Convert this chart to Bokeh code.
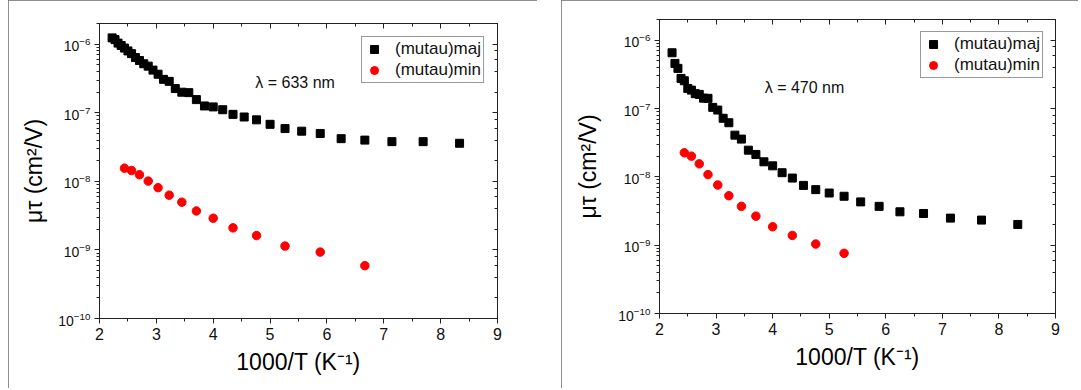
from bokeh.plotting import figure
from bokeh.models import Label, LinearAxis, LogAxis, SingleIntervalTicker, Spacer, CustomJSTickFormatter
from bokeh.layouts import row
from bokeh.embed import file_html
from bokeh.resources import INLINE

# ---------------- data ----------------
# 1000/T for majority carrier points (K^-1)
x_maj = [2.222, 2.273, 2.326, 2.381, 2.439, 2.500, 2.564, 2.632, 2.703, 2.778,
         2.857, 2.941, 3.030, 3.125, 3.226, 3.333, 3.448, 3.571, 3.704, 3.846,
         4.000, 4.167, 4.348, 4.545, 4.762, 5.000, 5.263, 5.556, 5.882, 6.250,
         6.667, 7.143, 7.692, 8.333]
# 633 nm, (mutau)maj  [cm^2/V]
maj_633 = [1.24e-6, 1.17e-6, 1.04e-6, 9.6e-7, 8.8e-7, 8.0e-7, 7.3e-7, 6.4e-7, 5.8e-7, 5.2e-7,
           4.8e-7, 4.2e-7, 3.66e-7, 3.08e-7, 2.88e-7, 2.26e-7, 2.0e-7, 1.97e-7, 1.56e-7, 1.26e-7,
           1.22e-7, 1.11e-7, 9.5e-8, 8.7e-8, 7.9e-8, 6.8e-8, 5.9e-8, 5.4e-8, 5.0e-8, 4.2e-8,
           4.0e-8, 3.8e-8, 3.8e-8, 3.6e-8]
# 470 nm, (mutau)maj
maj_470 = [6.55e-7, 4.57e-7, 3.87e-7, 2.76e-7, 2.55e-7, 1.97e-7, 1.86e-7, 1.65e-7, 1.61e-7, 1.42e-7,
           1.41e-7, 1.04e-7, 9.5e-8, 7.2e-8, 6.2e-8, 4.08e-8, 3.57e-8, 2.46e-8, 2.13e-8, 1.66e-8,
           1.45e-8, 1.15e-8, 9.6e-9, 7.5e-9, 6.5e-9, 5.8e-9, 5.2e-9, 4.3e-9, 3.7e-9, 3.08e-9,
           2.91e-9, 2.49e-9, 2.33e-9, 2.01e-9]

# 1000/T for minority carrier points
x_min_633 = [2.439, 2.564, 2.703, 2.857, 3.030, 3.226, 3.448, 3.704, 4.000, 4.348,
             4.762, 5.263, 5.882, 6.667]
min_633 = [1.56e-8, 1.44e-8, 1.25e-8, 1.01e-8, 8.1e-9, 6.3e-9, 4.97e-9, 3.7e-9, 2.9e-9, 2.1e-9,
           1.62e-9, 1.14e-9, 9.3e-10, 5.9e-10]
x_min_470 = [2.439, 2.564, 2.703, 2.857, 3.030, 3.226, 3.448, 3.704, 4.000, 4.348,
             4.762, 5.263]
min_470 = [2.25e-8, 2.01e-8, 1.55e-8, 1.08e-8, 7.6e-9, 5.3e-9, 3.7e-9, 2.66e-9, 1.86e-9, 1.39e-9,
           1.04e-9, 7.6e-10]

labels = ["(mutau)maj", "(mutau)min"]
x_label = "1000/T (K\u207b\u00b9)"
y_label = "\u03bc\u03c4 (cm\u00b2/V)"
FONT = "Liberation Sans"
AX = "#222222"


def make_panel(xm, ym, xn, yn, lam_text, lam_pos, width, mb_left, mb_right, mb_top,
               mb_bottom, y_label_standoff, legend_margin):
    height = 388
    p = figure(width=width, height=height, x_range=(2, 9), y_range=(1e-10, 2.01e-6),
               y_axis_type="log", output_backend="svg", toolbar_location=None,
               min_border_left=mb_left, min_border_right=mb_right, min_border_top=mb_top,
               min_border_bottom=mb_bottom, frame_align=False,
               outline_line_color=AX, outline_line_width=1,
               background_fill_color="white", border_fill_color="white",
               styles={"outline": "1px solid #6a6a6a", "outline-offset": "-1px"})
    p.grid.visible = False

    xa = p.xaxis[0]
    xa.ticker = SingleIntervalTicker(interval=1, num_minor_ticks=2)
    xa.axis_label = x_label
    ya = p.yaxis[0]
    ya.axis_label = y_label

    for ax in (xa, ya):
        ax.axis_line_color = AX
        ax.major_tick_line_color = AX
        ax.minor_tick_line_color = AX
        ax.major_tick_out = 5
        ax.major_tick_in = 0
        ax.minor_tick_out = 3
        ax.minor_tick_in = 0
        ax.major_label_text_font = FONT
        ax.major_label_text_color = "#111111"
        ax.axis_label_text_font = FONT
        ax.axis_label_text_font_style = "normal"
        ax.axis_label_text_font_size = "23px"
        ax.axis_label_text_color = "#000000"
        ax.major_label_standoff = 4
    xa.major_label_text_font_size = "16px"
    ya.major_label_text_font_size = "14px"
    xa.major_label_standoff = 4
    xa.axis_label_standoff = 6
    ya.axis_label_standoff = y_label_standoff

    # top and right axes: ticks only, blank labels
    top = LinearAxis(ticker=SingleIntervalTicker(interval=1, num_minor_ticks=2),
                     formatter=CustomJSTickFormatter(code="return ''"),
                     major_label_text_font_size="1px", major_label_standoff=0,
                     axis_label_standoff=0,
                     major_tick_in=5, major_tick_out=0, minor_tick_in=3, minor_tick_out=0,
                     axis_line_color=AX, major_tick_line_color=AX, minor_tick_line_color=AX)
    right = LogAxis(formatter=CustomJSTickFormatter(code="return ''"),
                    major_label_text_font_size="1px", major_label_standoff=0,
                    axis_label_standoff=0,
                    major_tick_in=5, major_tick_out=0, minor_tick_in=3, minor_tick_out=0,
                    axis_line_color=AX, major_tick_line_color=AX, minor_tick_line_color=AX)
    p.add_layout(top, "above")
    p.add_layout(right, "right")

    p.scatter(xm, ym, marker="square", size=8, color="black", legend_label=labels[0])
    p.scatter(xn, yn, marker="circle", size=8.5, color="#ff0000", legend_label=labels[1])

    lg = p.legend[0]
    lg.location = "top_right"
    lg.margin = legend_margin
    lg.border_line_color = "#333333"
    lg.border_line_width = 1.5
    lg.background_fill_color = "white"
    lg.label_text_font = FONT
    lg.label_text_font_size = "17px"
    lg.label_text_color = "#111111"
    lg.glyph_width = 20
    lg.glyph_height = 20
    lg.label_height = 20
    lg.label_standoff = 11
    lg.spacing = 1
    lg.padding = 2

    p.add_layout(Label(x=lam_pos[0], y=lam_pos[1], text=lam_text, text_font=FONT,
                       text_font_size="16px", text_baseline="middle", text_color="#111111"))
    return p


p1 = make_panel(x_maj, maj_633, x_min_633, min_633, "\u03bb = 633 nm", (4.74, 2.79e-7),
                width=529, mb_left=91, mb_right=40, mb_top=23, mb_bottom=70,
                y_label_standoff=8, legend_margin=13)
p2 = make_panel(x_maj, maj_470, x_min_470, min_470, "\u03bb = 470 nm", (3.86, 2.06e-7),
                width=517, mb_left=98, mb_right=23, mb_top=19, mb_bottom=75,
                y_label_standoff=14, legend_margin=12)

layout = row(Spacer(width=8, height=10), p1, Spacer(width=24, height=10), p2)
open("out.html", "w").write(file_html(layout, INLINE))
